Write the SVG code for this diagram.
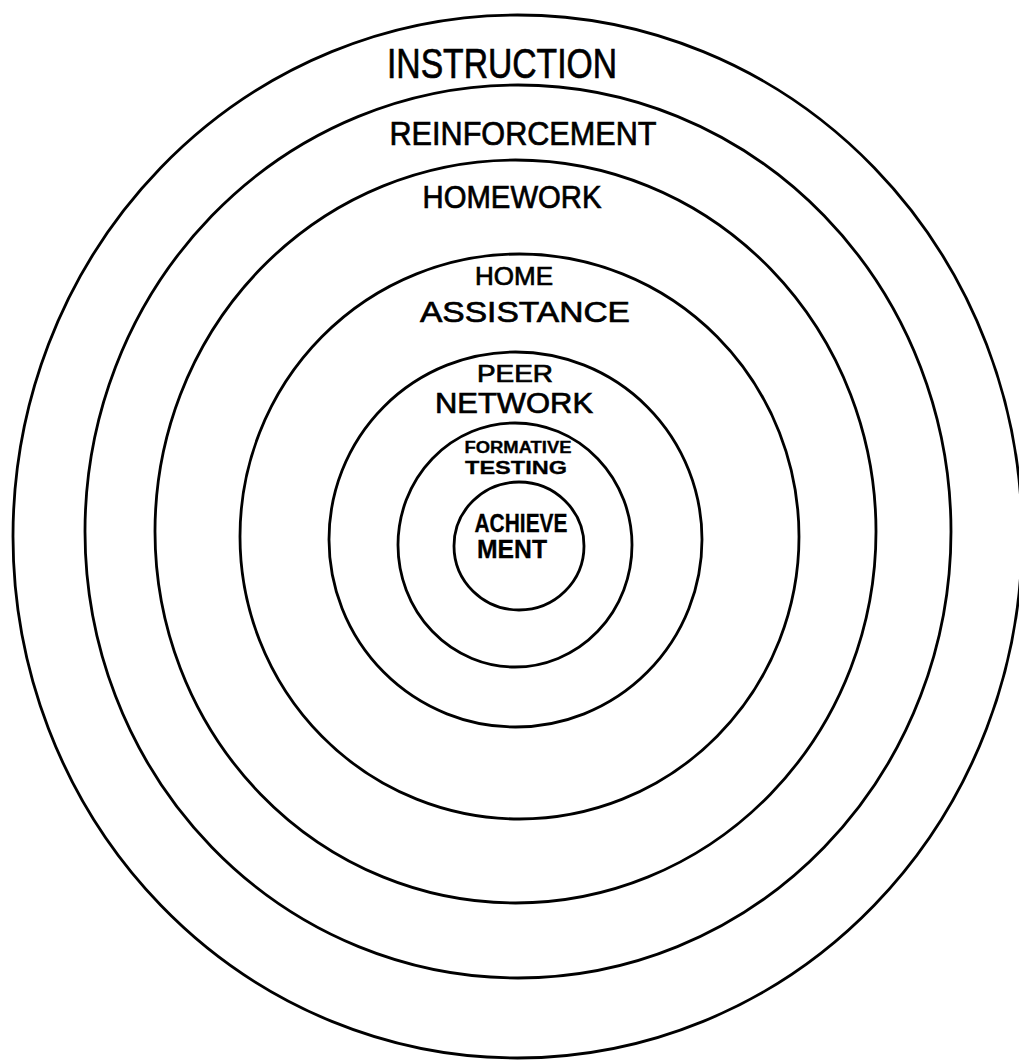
<svg xmlns="http://www.w3.org/2000/svg" width="1019" height="1061" viewBox="0 0 1019 1061">
<style>
.ring{fill:none;stroke:#000;stroke-width:2.8}
.lbl{font-family:"Liberation Sans","DejaVu Sans",sans-serif;fill:#000;stroke:#000;stroke-width:0.7;text-anchor:middle}
.b{font-weight:bold;stroke-width:0.3}
</style>
<rect width="1019" height="1061" fill="#fff"/>
<g id="connectors"></g>
<g id="instruction">
<ellipse class="ring" cx="517.5" cy="536.5" rx="504.5" ry="521.5"/>
<text class="lbl" x="502" y="78" font-size="42" textLength="230" lengthAdjust="spacingAndGlyphs">INSTRUCTION</text>
</g>
<g id="reinforcement">
<ellipse class="ring" cx="518" cy="531.5" rx="433" ry="446.5"/>
<text class="lbl" x="523" y="145" font-size="33" textLength="267" lengthAdjust="spacingAndGlyphs">REINFORCEMENT</text>
</g>
<g id="homework">
<ellipse class="ring" cx="515.5" cy="531.5" rx="360.5" ry="371.5"/>
<text class="lbl" x="512" y="208" font-size="32" textLength="179" lengthAdjust="spacingAndGlyphs">HOMEWORK</text>
</g>
<g id="home-assistance">
<ellipse class="ring" cx="519.5" cy="536.5" rx="279.5" ry="282.5"/>
<text class="lbl" x="514" y="285" font-size="25" textLength="78" lengthAdjust="spacingAndGlyphs">HOME</text>
<text class="lbl" x="525" y="322" font-size="30" textLength="210" lengthAdjust="spacingAndGlyphs">ASSISTANCE</text>
</g>
<g id="peer-network">
<ellipse class="ring" cx="515.5" cy="539.5" rx="186.5" ry="187.5"/>
<text class="lbl" x="515" y="382" font-size="23" textLength="76" lengthAdjust="spacingAndGlyphs">PEER</text>
<text class="lbl" x="514" y="413" font-size="29" textLength="158" lengthAdjust="spacingAndGlyphs">NETWORK</text>
</g>
<g id="formative-testing">
<ellipse class="ring" cx="515" cy="545" rx="117" ry="122"/>
<text class="lbl b" x="518" y="453" font-size="16" textLength="107" lengthAdjust="spacingAndGlyphs">FORMATIVE</text>
<text class="lbl b" x="516" y="474" font-size="19" textLength="102" lengthAdjust="spacingAndGlyphs">TESTING</text>
</g>
<g id="achievement">
<ellipse class="ring" cx="519" cy="546" rx="65" ry="64"/>
<text class="lbl b" x="521" y="532" font-size="25" textLength="93" lengthAdjust="spacingAndGlyphs">ACHIEVE</text>
<text class="lbl b" x="512" y="558" font-size="25" textLength="70" lengthAdjust="spacingAndGlyphs">MENT</text>
</g>
</svg>
